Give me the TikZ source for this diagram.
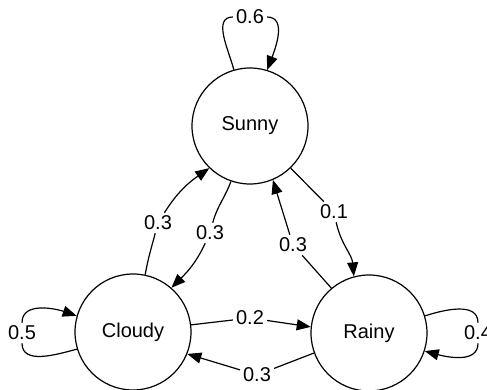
\documentclass[tikz,border=0pt]{standalone}
\usepackage{fontspec}
\setmainfont{Liberation Sans}
\usetikzlibrary{arrows.meta}
\begin{document}
\begin{tikzpicture}[x=1pt,y=1pt,
  state/.style={circle,draw,line width=1.2pt,minimum size=116pt,inner sep=0pt,font=\fontsize{20}{24}\selectfont},
  lab/.style={inner sep=3pt,font=\fontsize{20}{24}\selectfont},
  edge/.style={line width=1.2pt,-{Triangle[length=14pt,width=11pt]}},
  plain/.style={line width=1.2pt}]
\useasboundingbox (0,0) rectangle (487,390);
\node[state] (s) at (250,264) {Sunny};
\node[state] (c) at (133,58) {Cloudy};
\node[state] (r) at (369,57) {Rainy};
% labels
\node[lab] (l06) at (250,373) {0.6};
\node[lab] (l05) at (22,57) {0.5};
\node[lab] (l04) at (478,57) {0.4};
\node[lab] (l1) at (158,167) {0.3};
\node[lab] (l2) at (210,157) {0.3};
\node[lab] (l3) at (293,145) {0.3};
\node[lab] (l4) at (334,178) {0.1};
\node[lab] (l02) at (250,72) {0.2};
\node[lab] (l5) at (257,15) {0.3};
% self loops
\draw[plain] (s.106) to[out=105,in=180] (l06);
\draw[edge] (l06) to[out=0,in=69] (s.73);
\draw[plain] (c.197) to[out=195,in=-90] (l05);
\draw[edge] (l05) to[out=90,in=161] (c.164);
\draw[plain] (r.17) to[out=18,in=90] (l04);
\draw[edge] (l04) to[out=-90,in=-15] (r.-18);
% edges
\draw[plain] (c.78) to[out=80,in=-105] (l1);
\draw[edge] (l1) to[out=58,in=215] (s.226);
\draw[plain] (s.251) to[out=250,in=75] (l2);
\draw[edge] (l2) to[out=245,in=45] (c.49);
\draw[plain] (r.130) -- (l3);
\draw[edge] (l3) -- (s.293);
\draw[plain] (s.314) -- (l4);
\draw[edge] (l4) to[out=-78,in=95] (r.105);
\draw[plain] (c.7) -- (l02);
\draw[edge] (l02) -- (r.174);
\draw[plain] (r.200) -- (l5);
\draw[edge] (l5) -- (c.338);
\end{tikzpicture}
\end{document}
